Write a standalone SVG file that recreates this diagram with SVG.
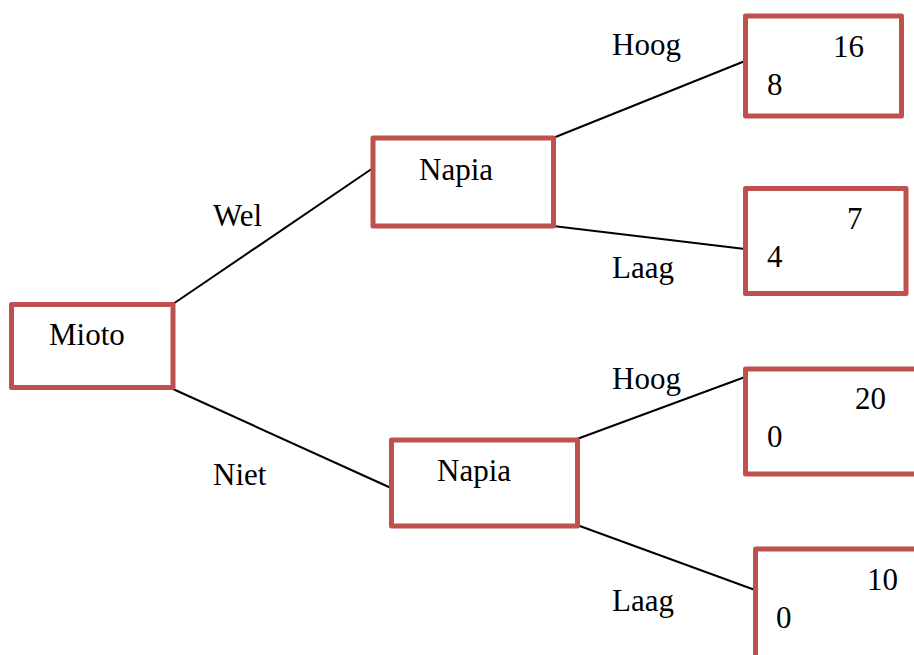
<svg xmlns="http://www.w3.org/2000/svg" width="914" height="655" viewBox="0 0 914 655">
<style>
.box{fill:#fff;stroke:#C0504D;stroke-width:5;stroke-linejoin:round}
text{font-family:'Liberation Serif','Times New Roman','DejaVu Serif',serif;font-size:31px;fill:#000}
.c{stroke:#000;stroke-width:2;fill:none}
</style>
<rect width="914" height="655" fill="#fff"/>
<g id="connectors">
<line class="c" x1="173" y1="304" x2="373" y2="168"/>
<line class="c" x1="173" y1="389" x2="391" y2="488"/>
<line class="c" x1="553" y1="138" x2="745" y2="61"/>
<line class="c" x1="553" y1="226" x2="745" y2="249"/>
<line class="c" x1="577" y1="439" x2="745" y2="377"/>
<line class="c" x1="577" y1="525" x2="755" y2="590"/>
</g>
<g id="labels">
<text x="612" y="55">Hoog</text>
<text x="213" y="226">Wel</text>
<text x="612" y="278">Laag</text>
<text x="612" y="389">Hoog</text>
<text x="213" y="485">Niet</text>
<text x="612" y="611">Laag</text>
</g>
<g id="mioto">
<rect class="box" x="11.5" y="304.5" width="161.5" height="83"/>
<text x="49" y="345">Mioto</text>
</g>
<g id="napia1">
<rect class="box" x="373" y="138" width="180.5" height="88"/>
<text x="419" y="180">Napia</text>
</g>
<g id="napia2">
<rect class="box" x="391.5" y="440" width="186" height="86"/>
<text x="437" y="481">Napia</text>
</g>
<g id="out1">
<rect class="box" x="745.5" y="16" width="156" height="100"/>
<text x="833" y="57">16</text>
<text x="767" y="95">8</text>
</g>
<g id="out2">
<rect class="box" x="745.5" y="188.5" width="160.5" height="105"/>
<text x="847" y="229">7</text>
<text x="767" y="267">4</text>
</g>
<g id="out3">
<rect class="box" x="745.5" y="369" width="190" height="105"/>
<text x="855" y="409">20</text>
<text x="767" y="447">0</text>
</g>
<g id="out4">
<rect class="box" x="755.5" y="549" width="190" height="130"/>
<text x="867" y="590">10</text>
<text x="776" y="628">0</text>
</g>
</svg>
